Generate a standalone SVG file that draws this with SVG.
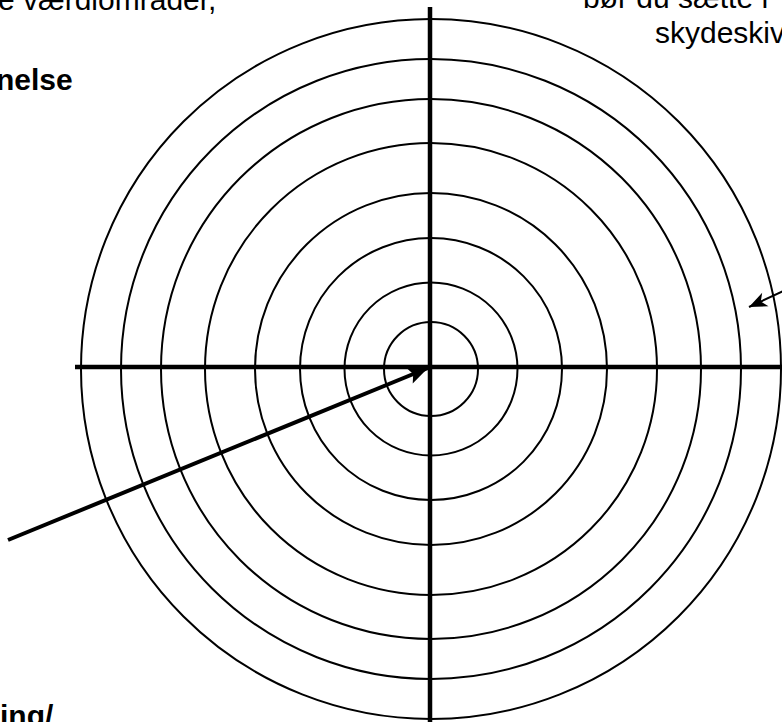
<svg xmlns="http://www.w3.org/2000/svg" width="782" height="722" viewBox="0 0 782 722">
<style>
.ring{fill:none;stroke:#000;stroke-width:2}
.axis{stroke:#000;stroke-width:4.5;fill:none}
.t{font-family:"Liberation Sans",Arial,sans-serif;font-size:30px;fill:#000}
.b{font-weight:bold}
.arrow{stroke:#000;fill:none}
</style>
<defs>
<marker id="headBig" markerUnits="userSpaceOnUse" markerWidth="24" markerHeight="20" viewBox="-22 -10 24 20" refX="0" refY="0" orient="auto">
<path d="M0,0 L-20,-8.5 L-16,0 L-20,8.5 Z" fill="#000"/>
</marker>
<marker id="headSmall" markerUnits="userSpaceOnUse" markerWidth="22" markerHeight="18" viewBox="-20 -9 22 18" refX="0" refY="0" orient="auto">
<path d="M0,0 L-18,-7.5 L-13,0 L-18,7.5 Z" fill="#000"/>
</marker>
</defs>
<rect width="782" height="722" fill="#fff"/>
<g id="target">
<circle class="ring" cx="431" cy="369" r="350"/>
<circle class="ring" cx="431" cy="369" r="310"/>
<circle class="ring" cx="431" cy="369" r="270"/>
<circle class="ring" cx="431" cy="369" r="226"/>
<circle class="ring" cx="431" cy="369" r="176"/>
<circle class="ring" cx="431" cy="369" r="131"/>
<circle class="ring" cx="431" cy="369" r="86.5"/>
<circle class="ring" cx="431" cy="369" r="47"/>
</g>
<g id="axes">
<line class="axis" x1="430" y1="7" x2="430" y2="722"/>
<line class="axis" x1="75" y1="367" x2="782" y2="367"/>
</g>
<g id="text-left-top">
<text class="t" x="-2" y="10">e værdiområder,</text>
<text class="t b" x="-4" y="90">nelse</text>
</g>
<g id="text-right-top">
<text class="t" x="583" y="8">bør du sætte r</text>
<text class="t" x="655" y="43">skydeskiv</text>
</g>
<g id="text-left-bottom">
<text class="t b" x="0" y="726">ing/</text>
</g>
<g id="connectors">
<line class="arrow" x1="8" y1="540" x2="428" y2="368" stroke-width="4" marker-end="url(#headBig)"/>
<line class="arrow" x1="790" y1="288" x2="749" y2="307" stroke-width="2" marker-end="url(#headSmall)"/>
</g>
</svg>
